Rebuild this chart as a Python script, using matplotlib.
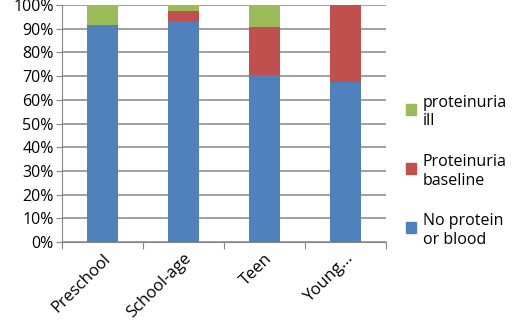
import matplotlib.pyplot as plt
import matplotlib.patches as mpatches
from matplotlib.legend_handler import HandlerPatch
from matplotlib.ticker import PercentFormatter
import numpy as np

# data (share of each group, %)
groups = ['Preschool', 'School-age', 'Teen', 'Young...']
no_protein = [91.6, 93.0, 70.3, 67.6]
proteinuria_baseline = [0.0, 4.6, 20.5, 32.4]
proteinuria_ill = [8.4, 2.4, 9.2, 0.0]

blue = '#4F81BD'
red = '#C0504D'
green = '#9BBB59'
grid_col = '#868686'

plt.rcParams['font.family'] = ['Open Sans', 'DejaVu Sans']

fig = plt.figure(figsize=(5.2, 3.36), dpi=100)
ax = fig.add_axes([62 / 520, 1 - 242 / 336, (386 - 62) / 520, (242 - 5) / 336])

x = np.arange(len(groups))
w = 0.39
ax.bar(x, no_protein, w, color=blue, zorder=3)
bottom2 = np.array(no_protein)
ax.bar(x, proteinuria_baseline, w, bottom=bottom2, color=red, zorder=3)
bottom3 = bottom2 + np.array(proteinuria_baseline)
ax.bar(x, proteinuria_ill, w, bottom=bottom3, color=green, zorder=3)

ax.set_xlim(-0.5, len(groups) - 0.5)
ax.set_ylim(0, 100)
ax.set_yticks(np.arange(0, 101, 10))
ax.yaxis.set_major_formatter(PercentFormatter(decimals=0))
ax.grid(axis='y', color=grid_col, linewidth=1.1, zorder=0)

# category boundary ticks on x
ax.set_xticks(np.arange(-0.5, len(groups), 1))
ax.set_xticklabels([])
ax.set_xticks(x, minor=True)
ax.set_xticklabels(groups, minor=True, rotation=45, ha='right',
                   rotation_mode='anchor', fontsize=12)
ax.tick_params(axis='x', which='minor', length=0, pad=6)
ax.tick_params(axis='x', which='major', length=5, color=grid_col, direction='out')
ax.tick_params(axis='y', length=4, color=grid_col, labelsize=11.5, pad=2)

for s in ['top', 'right']:
    ax.spines[s].set_visible(False)
for s in ['left', 'bottom']:
    ax.spines[s].set_color(grid_col)


def top_square(legend, orig_handle, xdescent, ydescent, width, height, fontsize):
    size = 7.5
    return mpatches.Rectangle((-xdescent, -ydescent + height - size), size, size)


handles = [mpatches.Patch(color=green), mpatches.Patch(color=red), mpatches.Patch(color=blue)]
labels = ['proteinuria\nill', 'Proteinuria\nbaseline', 'No protein\nor blood']
fig.legend(handles, labels, loc='upper left', bbox_to_anchor=(406 / 520, 1 - 95 / 336),
           frameon=False, fontsize=11.5, handlelength=0.6, handleheight=1.3,
           handletextpad=0.45, labelspacing=1.55, borderpad=0, borderaxespad=0,
           handler_map={mpatches.Patch: HandlerPatch(patch_func=top_square)})

fig.savefig('out.png', dpi=100)
